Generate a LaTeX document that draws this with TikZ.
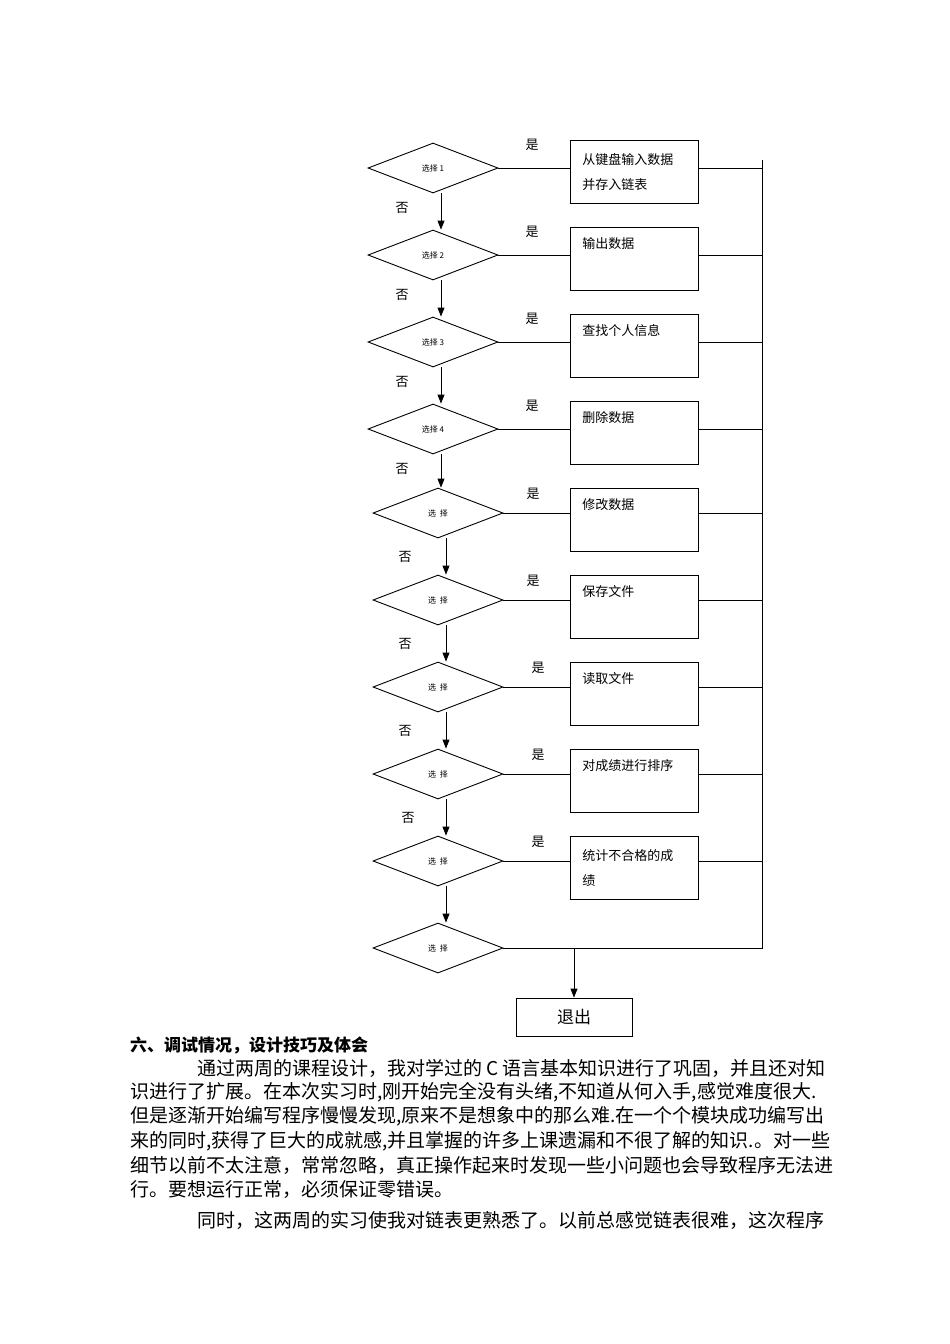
\documentclass[tikz,border=0pt]{standalone}
\usepackage{fontspec}
\setmainfont{Noto Sans CJK SC}
\usetikzlibrary{shapes.geometric,arrows.meta}
\begin{document}
\begin{tikzpicture}[x=1pt,y=-1pt,
  dec/.style={diamond,draw,line width=0.9pt,minimum width=130pt,minimum height=50pt,aspect=2.6,inner sep=0pt,font=\fontsize{8}{8}\selectfont},
  bx/.style={draw,line width=0.9pt,minimum width=128pt,minimum height=63pt,anchor=north west,align=left,text width=104pt,inner xsep=12pt,inner ysep=7pt,font=\fontsize{13}{25}\selectfont},
  lbl/.style={font=\fontsize{13}{13}\selectfont},
  arr/.style={-{Triangle[length=9pt,width=7pt]},line width=0.9pt},
  ln/.style={line width=0.9pt},
  para/.style={anchor=west,inner sep=0pt,font=\fontsize{19}{19}\selectfont}]
\useasboundingbox[fill=white] (0,0) rectangle (950,1344);
% diamonds
\node[dec] (d1) at (433,168) {选择 1};
\node[dec] (d2) at (433,255) {选择 2};
\node[dec] (d3) at (433,342) {选择 3};
\node[dec] (d4) at (433,429) {选择 4};
\node[dec] (d5) at (438,513) {选\ \ 择};
\node[dec] (d6) at (438,600) {选\ \ 择};
\node[dec] (d7) at (438,687) {选\ \ 择};
\node[dec] (d8) at (438,774) {选\ \ 择};
\node[dec] (d9) at (438,861) {选\ \ 择};
\node[dec] (d10) at (438,948) {选\ \ 择};
% boxes
\node[bx,minimum height=63pt] (b1) at (570,140) {从键盘输入数据\\并存入链表};
\node[bx,text depth=32pt] (b2) at (570,227) {输出数据};
\node[bx,text depth=32pt] (b3) at (570,314) {查找个人信息};
\node[bx,text depth=32pt] (b4) at (570,401) {删除数据};
\node[bx,text depth=32pt] (b5) at (570,488) {修改数据};
\node[bx,text depth=32pt] (b6) at (570,575) {保存文件};
\node[bx,text depth=32pt] (b7) at (570,662) {读取文件};
\node[bx,text depth=32pt] (b8) at (570,749) {对成绩进行排序};
\node[bx,minimum height=63pt] (b9) at (570,836) {统计不合格的成\\绩};
\node[draw,line width=0.9pt,minimum width=116pt,minimum height=38pt,font=\fontsize{17}{17}\selectfont] (ex) at (574,1017) {退出};
% vertical arrows
\foreach \a/\b in {d1/d2,d2/d3,d3/d4,d4/d5,d5/d6,d6/d7,d7/d8,d8/d9,d9/d10} \draw[arr] ([xshift=8pt]\a.south) -- ([xshift=8pt]\a.south |- \b.north);
% yes lines
\coordinate (top) at (762,160);
\foreach \i in {1,...,9} {
  \draw[ln] (d\i.east) -- (d\i.east -| b\i.west);
  \draw[ln] (d\i.east -| b\i.east) -- (d\i.east -| top);
}
\coordinate (bot) at (762,948);
\draw[ln] (top) -- (bot) -- (d10.east);
\coordinate (ex0) at (574,948);
\draw[arr] (ex0) -- (ex.north);
% labels
\foreach \x/\y in {532/145,532/232,532/319,532/406,533/494,533/581,538/668,538/755,538/842} \node[lbl] at (\x,\y) {是};
\foreach \x/\y in {402/208,402/295,402/382,402/469,405/557,405/644,405/731,408/818} \node[lbl] at (\x,\y) {否};
% text
\node[para,font=\fontsize{17}{17}\selectfont\bfseries] (h) at (130,1045) {六、调试情况，设计技巧及体会};
\node[para] (p1) at (197,1068) {通过两周的课程设计，我对学过的 C 语言基本知识进行了巩固，并且还对知};
\node[para] (p2) at (130,1092) {识进行了扩展。在本次实习时,刚开始完全没有头绪,不知道从何入手,感觉难度很大.};
\node[para] (p3) at (130,1116) {但是逐渐开始编写程序慢慢发现,原来不是想象中的那么难.在一个个模块成功编写出};
\node[para] (p4) at (130,1141) {来的同时,获得了巨大的成就感,并且掌握的许多上课遗漏和不很了解的知识.。对一些};
\node[para] (p5) at (130,1165) {细节以前不太注意，常常忽略，真正操作起来时发现一些小问题也会导致程序无法进};
\node[para] (p6) at (130,1190) {行。要想运行正常，必须保证零错误。};
\node[para] (p7) at (197,1220) {同时，这两周的实习使我对链表更熟悉了。以前总感觉链表很难，这次程序};
\end{tikzpicture}
\end{document}
